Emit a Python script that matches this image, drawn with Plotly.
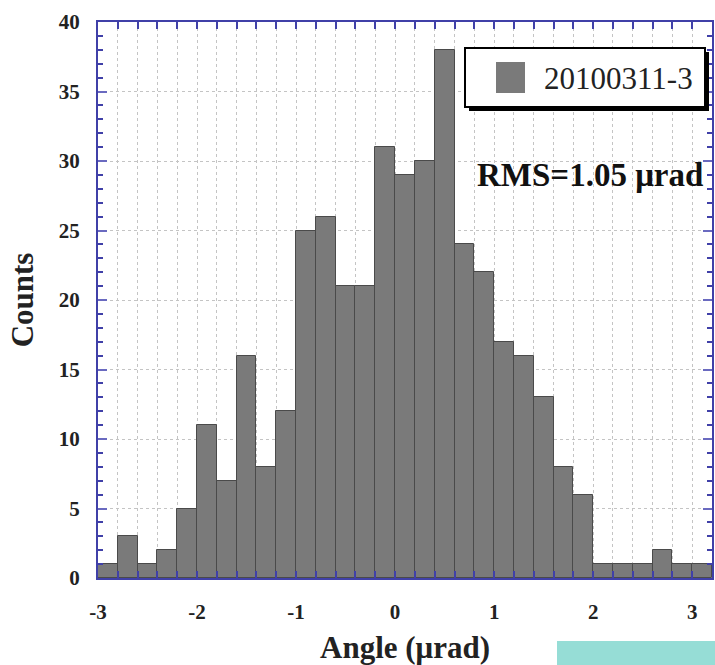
import plotly.graph_objects as go

# ---- data ----
bin_width = 0.2
bin_left = [-3.0, -2.8, -2.6, -2.4, -2.2, -2.0, -1.8, -1.6, -1.4, -1.2,
            -1.0, -0.8, -0.6, -0.4, -0.2, 0.0, 0.2, 0.4, 0.6, 0.8,
            1.0, 1.2, 1.4, 1.6, 1.8, 2.0, 2.2, 2.4, 2.6, 2.8, 3.0]
counts = [1, 3, 1, 2, 5, 11, 7, 16, 8, 12,
          25, 26, 21, 21, 31, 29, 30, 38, 24, 22,
          17, 16, 13, 8, 6, 1, 1, 1, 2, 1, 1]
series_name = "20100311-3"
rms_label = "RMS=1.05 μrad"
x_title = "Angle (μrad)"
y_title = "Counts"
x_ticks = [-3, -2, -1, 0, 1, 2, 3]
y_ticks = [0, 5, 10, 15, 20, 25, 30, 35, 40]

centers = [b + bin_width / 2 for b in bin_left]

W, H = 715, 665
ML, MR, MT, MB = 98, 3, 22, 87
AXIS_BLUE = "#4040a8"
GRID = "#c4c4c4"
FONT = "Liberation Serif"

fig = go.Figure()
fig.add_trace(go.Bar(
    x=centers, y=counts, width=bin_width, name=series_name,
    marker=dict(color="#7a7a7a", line=dict(color="#4a4a4a", width=1)),
    showlegend=False,
))

fig.update_layout(
    width=W, height=H,
    margin=dict(l=ML, r=MR, t=MT, b=MB, autoexpand=False),
    paper_bgcolor="white", plot_bgcolor="white",
    font=dict(family=FONT, color="black"),
    bargap=0,
)

fig.update_xaxes(
    range=[-3, 3.2], tickvals=x_ticks, ticktext=[str(v) for v in x_ticks],
    tickfont=dict(family=FONT, size=21, weight="bold", color="#222"),
    ticks="inside", ticklen=7, tickwidth=1.5, tickcolor=AXIS_BLUE,
    ticklabelstandoff=14,
    showline=True, linecolor=AXIS_BLUE, linewidth=2, mirror="allticks",
    showgrid=True, gridcolor=GRID, griddash="dot", gridwidth=1,
    minor=dict(dtick=0.2, tick0=0, ticks="inside", ticklen=7, tickcolor=AXIS_BLUE,
               tickwidth=1.5, showgrid=True, gridcolor=GRID, griddash="dot", gridwidth=1),
    zeroline=False,
    title=dict(text=x_title, font=dict(family=FONT, size=31, weight="bold", color="#222"), standoff=15),
)
fig.update_yaxes(
    range=[0, 40], tickvals=y_ticks,
    tickfont=dict(family=FONT, size=21, weight="bold", color="#222"),
    ticks="inside", ticklen=9, tickwidth=2, tickcolor="#6a6ac0",
    ticklabelstandoff=12,
    showline=True, linecolor=AXIS_BLUE, linewidth=2, mirror="allticks",
    showgrid=True, gridcolor=GRID, griddash="dot", gridwidth=1,
    minor=dict(dtick=1, ticks="inside", ticklen=5, tickcolor=AXIS_BLUE, tickwidth=1.5, showgrid=False),
    zeroline=False,
    title=dict(text=y_title, font=dict(family=FONT, size=31, weight="bold", color="#222"), standoff=16),
)

# manual legend box with drop shadow
def px2x(px):
    return (px - ML) / (W - ML - MR)

def px2y(py):
    return (H - MB - py) / (H - MT - MB)

lx0, lx1, ly0, ly1 = 465, 705, 48, 107
fig.add_shape(type="rect", xref="paper", yref="paper",
              x0=px2x(lx0 + 4), x1=px2x(lx1 + 4), y0=px2y(ly1 + 4), y1=px2y(ly0 + 4),
              fillcolor="black", line=dict(width=0))
fig.add_shape(type="rect", xref="paper", yref="paper",
              x0=px2x(lx0), x1=px2x(lx1), y0=px2y(ly1), y1=px2y(ly0),
              fillcolor="white", line=dict(color="black", width=2))
fig.add_shape(type="rect", xref="paper", yref="paper",
              x0=px2x(496), x1=px2x(525), y0=px2y(93), y1=px2y(62),
              fillcolor="#7a7a7a", line=dict(width=0))
fig.add_annotation(xref="paper", yref="paper", x=px2x(618), y=px2y(78),
                   text=series_name, showarrow=False, xanchor="center", yanchor="middle",
                   font=dict(family=FONT, size=31, color="#222"))

fig.add_annotation(xref="paper", yref="paper", x=px2x(590), y=px2y(175),
                   text=rms_label, showarrow=False, xanchor="center", yanchor="middle",
                   font=dict(family=FONT, size=33, weight="bold", color="#111"))

# teal strip at bottom right
fig.add_shape(type="rect", xref="paper", yref="paper",
              x0=px2x(557), x1=px2x(716), y0=px2y(666), y1=px2y(641),
              fillcolor="#96ddd6", line=dict(width=0))

fig.write_html("out.html")
